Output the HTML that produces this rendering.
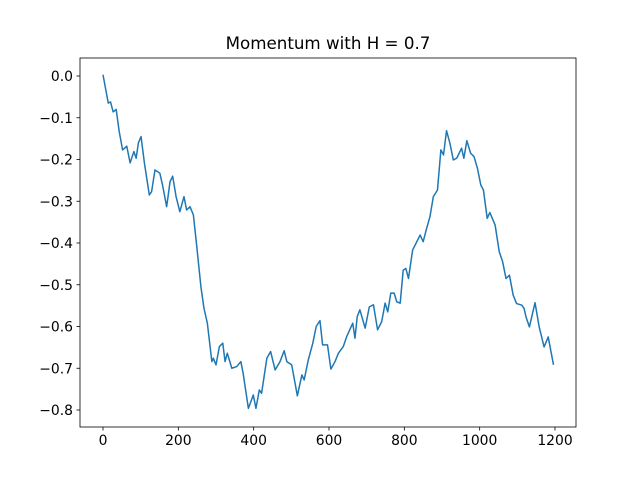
<!DOCTYPE html>
<html><head><meta charset="utf-8"><style>
body{margin:0;background:#fff}
svg{display:block;font-family:"DejaVu Sans","Liberation Sans",sans-serif}
</style></head><body>
<svg id="chart" width="640" height="480" viewBox="0 0 640 480">
<rect x="0" y="0" width="640" height="480" fill="#fff"/>
<text x="328" y="49" text-anchor="middle" font-size="16.7" fill="#000">Momentum with H = 0.7</text>
<g id="axes"></g>
</svg>
<script>
const steps=[0,14,20,27,35,43,52,63,72,82,88,94,101,110,123,129,138,151,158,169,178,185,194,204,215,222,231,240,249,260,268,277,289,293,300,309,318,324,330,342,355,366,372,386,399,406,415,421,435,445,457,470,481,488,501,516,528,534,545,557,566,576,583,596,605,616,625,638,647,663,669,675,682,696,707,718,729,740,749,756,764,773,780,789,797,804,811,822,833,842,850,858,868,877,888,897,904,912,921,930,939,952,958,966,976,985,994,1003,1010,1020,1027,1041,1052,1061,1070,1079,1089,1098,1112,1118,1123,1132,1147,1158,1171,1182,1196];
const values=[0.003,-0.065,-0.062,-0.086,-0.080,-0.133,-0.177,-0.168,-0.208,-0.181,-0.197,-0.160,-0.145,-0.209,-0.285,-0.277,-0.225,-0.233,-0.261,-0.313,-0.253,-0.240,-0.289,-0.325,-0.289,-0.321,-0.313,-0.333,-0.409,-0.505,-0.556,-0.592,-0.684,-0.676,-0.692,-0.648,-0.640,-0.684,-0.664,-0.700,-0.696,-0.684,-0.712,-0.796,-0.764,-0.796,-0.752,-0.760,-0.676,-0.660,-0.704,-0.684,-0.658,-0.684,-0.692,-0.766,-0.716,-0.728,-0.680,-0.640,-0.600,-0.586,-0.644,-0.644,-0.702,-0.684,-0.664,-0.648,-0.624,-0.592,-0.628,-0.576,-0.560,-0.604,-0.553,-0.548,-0.608,-0.588,-0.544,-0.565,-0.520,-0.520,-0.541,-0.544,-0.465,-0.461,-0.485,-0.417,-0.397,-0.381,-0.397,-0.369,-0.337,-0.289,-0.273,-0.177,-0.189,-0.131,-0.161,-0.201,-0.197,-0.173,-0.197,-0.155,-0.185,-0.193,-0.221,-0.261,-0.273,-0.341,-0.327,-0.357,-0.421,-0.445,-0.485,-0.477,-0.525,-0.545,-0.549,-0.557,-0.577,-0.601,-0.543,-0.601,-0.649,-0.625,-0.692];
const xTicks=[0,200,400,600,800,1000,1200];
const yTicks=[0.0,-0.1,-0.2,-0.3,-0.4,-0.5,-0.6,-0.7,-0.8];
const yTickLabels=["0.0","−0.1","−0.2","−0.3","−0.4","−0.5","−0.6","−0.7","−0.8"];

const L=80,R=576,T=58,B=427;
const xScale=v=>103+v*(452/1200);
const yScale=v=>76-v*417.5;
const NS="http://www.w3.org/2000/svg";
const g=document.getElementById('axes');
function mk(tag,attrs){const e=document.createElementNS(NS,tag);for(const k in attrs)e.setAttribute(k,attrs[k]);g.appendChild(e);return e;}

let d=steps.map((s,i)=>(i?'L':'M')+xScale(s).toFixed(2)+' '+yScale(values[i]).toFixed(2)).join(' ');
const line=mk('path',{d:d,fill:'none',stroke:'#1f77b4','stroke-width':1.5,'stroke-linejoin':'round'});



const frame=mk('rect',{x:L,y:T,width:R-L,height:B-T,fill:'none',stroke:'#000','stroke-width':0.8});



xTicks.forEach(t=>{
  const x=xScale(t);
  const tk=mk('line',{x1:x,x2:x,y1:B,y2:B+3.5,stroke:'#000','stroke-width':0.8});
  
  
  const tx=mk('text',{x:x,y:B+18,'text-anchor':'middle','font-size':13.9,fill:'#000'});
  tx.textContent=String(t);
  
  
});
yTicks.forEach((t,i)=>{
  const y=yScale(t);
  const tk=mk('line',{x1:L-3.5,x2:L,y1:y,y2:y,stroke:'#000','stroke-width':0.8});
  
  
  const tx=mk('text',{x:L-7,y:y+5,'text-anchor':'end','font-size':13.9,fill:'#000'});
  tx.textContent=yTickLabels[i];
  
  
});
</script>
</body></html>
